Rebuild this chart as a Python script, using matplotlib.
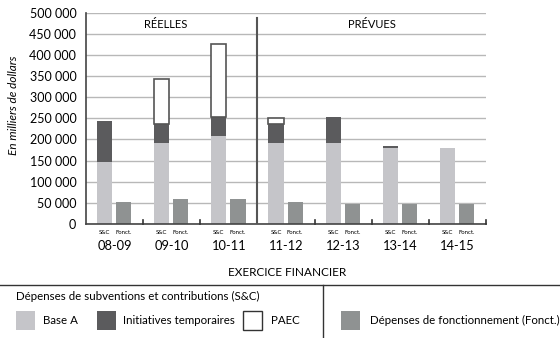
import matplotlib
matplotlib.use('Agg')
import matplotlib.pyplot as plt
from matplotlib.patches import Rectangle
from matplotlib.lines import Line2D
import matplotlib.transforms as mtransforms

plt.rcParams['font.family'] = ['Lato', 'DejaVu Sans']

# Data (milliers de dollars)
years = ['08-09', '09-10', '10-11', '11-12', '12-13', '13-14', '14-15']
base_a = [146000, 191000, 209000, 191000, 191000, 181000, 181000]
temporaires = [98000, 46000, 45000, 46000, 62000, 3000, 0]
paec = [0, 105000, 171000, 14000, 0, 0, 0]
fonct = [52000, 58000, 58000, 51000, 47000, 47000, 47000]

c_base = '#c5c5c9'
c_temp = '#5b5b5d'
c_fonct = '#8f9292'
c_line = '#555555'

W, H = 560, 338
fig = plt.figure(figsize=(W / 100, H / 100), dpi=100)
ax = fig.add_axes([86 / W, 1 - 224 / H, 400 / W, 211.3 / H])

n = len(years)
x_sc = [i + 0.325 for i in range(n)]
x_fo = [i + 0.66 for i in range(n)]
bw = 0.265

ax.bar(x_sc, base_a, bw, color=c_base, zorder=2)
bottom2 = [a + b for a, b in zip(base_a, temporaires)]
ax.bar(x_sc, temporaires, bw, bottom=base_a, color=c_temp, zorder=2)
paec_edges = [c_line if v else 'none' for v in paec]
ax.bar(x_sc, paec, bw, bottom=bottom2, color='white', edgecolor=paec_edges, linewidth=1.2, zorder=2)
ax.bar(x_fo, fonct, bw, color=c_fonct, zorder=2)

ax.set_xlim(0, n)
ax.set_ylim(0, 500000)
ax.set_yticks(range(0, 500001, 50000))
ax.set_yticklabels([f'{v:,}'.replace(',', ' ') for v in range(0, 500001, 50000)], fontsize=9)
ax.tick_params(axis='y', length=0, pad=7)
ax.set_xticks([])
ax.grid(axis='y', color='#b8b8b8', linewidth=1, zorder=0)
ax.set_axisbelow(True)
for s in ['top', 'right']:
    ax.spines[s].set_visible(False)
for s in ['left', 'bottom']:
    ax.spines[s].set_color('#444444')
    ax.spines[s].set_linewidth(1.2)

# group separators
for k in [1, 2, 4, 5, 6, 7]:
    ax.plot([k, k], [0, 9000], color='#333333', lw=1.2, zorder=3, clip_on=False)
ax.plot([3, 3], [0, 487000], color=c_line, lw=1.5, zorder=3)

ax.text(1.4, 473000, 'RÉELLES', ha='center', va='center', fontsize=8)
ax.text(5.0, 473000, 'PRÉVUES', ha='center', va='center', fontsize=8)

trans = mtransforms.blended_transform_factory(ax.transData, ax.transAxes)
for i in range(n):
    ax.text(x_sc[i], -0.038, 'S&C', ha='center', va='center', fontsize=4.3, transform=trans)
    ax.text(x_fo[i], -0.038, 'Fonct.', ha='center', va='center', fontsize=4.3, transform=trans)
    ax.text(i + 0.5, -0.104, years[i], ha='center', va='center', fontsize=9.3, transform=trans)

fig.text(14 / W, 1 - 105 / H, 'En milliers de dollars', rotation=90, style='italic',
         ha='center', va='center', fontsize=8.5)
fig.text(287 / W, 1 - 273 / H, 'EXERCICE FINANCIER', ha='center', va='center', fontsize=8.5)

# legend block
fig.add_artist(Line2D([0, 1], [1 - 285 / H, 1 - 285 / H], color='#333333', lw=1, transform=fig.transFigure))
fig.add_artist(Line2D([323 / W, 323 / W], [1 - 285 / H, 0], color='#333333', lw=1, transform=fig.transFigure))
fig.text(16 / W, 1 - 296 / H, 'Dépenses de subventions et contributions (S&C)', ha='left', va='center', fontsize=8.3)

row_y = 1 - 320 / H
items = [(16, c_base, None, 43, 'Base A'),
         (97, c_temp, None, 123, 'Initiatives temporaires'),
         (243, 'white', '#333333', 271, 'PAEC'),
         (341, c_fonct, None, 370, 'Dépenses de fonctionnement (Fonct.)')]
for px, fc, ec, tx, label in items:
    fig.add_artist(Rectangle((px / W, row_y - 9.5 / H), 19 / W, 19 / H, facecolor=fc,
                             edgecolor=ec if ec else 'none', lw=1, transform=fig.transFigure))
    fig.text(tx / W, row_y, label, ha='left', va='center', fontsize=8.3)

fig.savefig('out.png', dpi=100)
